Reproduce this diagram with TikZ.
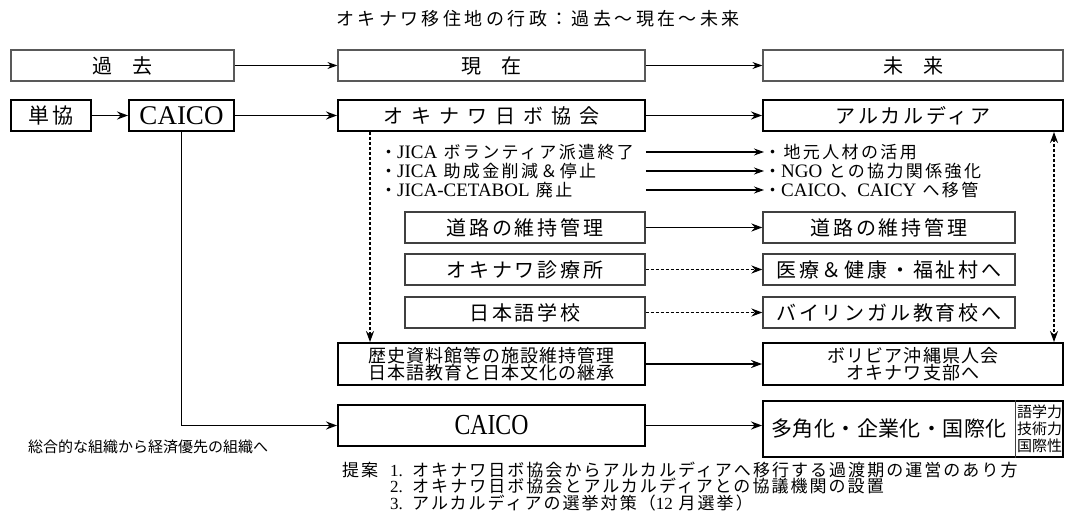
\documentclass[tikz,border=0pt]{standalone}
\usepackage{fontspec}
\setmainfont{Noto Sans CJK JP}
\newfontfamily\lat{Liberation Serif}
\newfontfamily\latn{Liberation Serif}[FakeStretch=0.82]
\newcommand{\lsp}[1]{\addfontfeature{LetterSpace=#1}}
\usetikzlibrary{arrows.meta,calc}
\begin{document}
\begin{tikzpicture}[x=1pt,y=-1pt,
  hdrbox/.style={draw=black!65, line width=1.2pt, inner sep=0pt, minimum height=31pt, font=\fontsize{20}{20}\selectfont},
  mainbox/.style={draw=black, line width=1.9pt, inner sep=0pt},
  subbox/.style={draw=black!75, line width=1.2pt, inner sep=0pt, minimum height=31pt},
  arr/.style={line width=1.7pt, -{Stealth[length=11pt,width=8pt]}},
  thinarr/.style={line width=1.1pt, -{Stealth[length=10pt,width=7pt]}},
  dotarr/.style={line width=1.7pt, dash pattern=on 3pt off 2pt, -{Stealth[length=11pt,width=8pt]}},
  dotdbl/.style={line width=1.7pt, dash pattern=on 3pt off 2pt, {Stealth[length=11pt,width=8pt]}-{Stealth[length=11pt,width=8pt]}},
  bullet/.style={inner sep=0pt, anchor=west, font=\fontsize{17}{17}\selectfont\lsp{14}},
  subtxt/.style={font=\fontsize{20}{20}\selectfont\lsp{14}},
  twoline/.style={align=center, font=\fontsize{18}{15}\selectfont\lsp{6}},
  prop/.style={inner sep=0pt, anchor=base west, font=\fontsize{17}{17}\selectfont\lsp{12}},
]
\useasboundingbox (0,0) rectangle (1065,522);

% title
\node[inner sep=0pt, font=\fontsize{18}{18}\selectfont\lsp{19}] (title) at (538,19) {オキナワ移住地の行政：過去～現在～未来};

% headers
\node[hdrbox, minimum width=223pt] (kako) at (122.5,65.5) {過　去};
\node[hdrbox, minimum width=307pt] (genzai) at (491.5,65.5) {現　在};
\node[hdrbox, minimum width=300pt] (mirai) at (913,65.5) {未　来};
\draw[thinarr] (kako.east) -- (genzai.west);
\draw[thinarr] (genzai.east) -- (mirai.west);

% row 2
\node[mainbox, minimum width=80pt, minimum height=31pt, font=\fontsize{21}{21}\selectfont\lsp{15}] (tankyo) at (51,115.5) {単協};
\node[mainbox, minimum width=105pt, minimum height=31pt, font=\fontsize{27}{27}\lat] (caico) at (181.5,115.5) {CAICO};
\node[mainbox, minimum width=307pt, minimum height=31pt, font=\fontsize{20}{20}\selectfont\lsp{40}] (nibo) at (491.5,115.5) {オキナワ日ボ協会};
\node[mainbox, minimum width=300pt, minimum height=31pt, font=\fontsize{20}{20}\selectfont\lsp{14}] (arcal) at (913,115.5) {アルカルディア};
\draw[arr] (tankyo.east) -- (caico.west);
\draw[arr] (caico.east) -- (nibo.west);
\draw[arr] (nibo.east) -- (arcal.west);

% bullets
\node[bullet] (lb1) at (380,152) {・{\fontsize{19}{19}\lat JICA} ボランティア派遣終了};
\node[bullet] (lb2) at (380,171) {・{\fontsize{19}{19}\lat JICA} 助成金削減＆停止};
\node[bullet] (lb3) at (380,190) {・{\fontsize{19}{19}\lat JICA-CETABOL} 廃止};
\node[bullet] (rb1) at (764,152) {・地元人材の活用};
\node[bullet] (rb2) at (764,171) {・{\fontsize{19}{19}\lat NGO} との協力関係強化};
\node[bullet] (rb3) at (764,190) {・{\fontsize{19}{19}\lat CAICO}、{\fontsize{19}{19}\lat CAICY} へ移管};
\draw[thinarr] (nibo.east |- lb1) -- (rb1.west);
\draw[thinarr] (nibo.east |- lb2) -- (rb2.west);
\draw[thinarr] (nibo.east |- lb3) -- (rb3.west);

% inner boxes
\node[subbox, minimum width=240pt, subtxt] (road1) at (525,227.5) {道路の維持管理};
\node[subbox, minimum width=240pt, subtxt] (clinic) at (525,269.5) {オキナワ診療所};
\node[subbox, minimum width=240pt, subtxt] (school) at (525,312.5) {日本語学校};
\node[subbox, minimum width=252pt, subtxt] (road2) at (889,227.5) {道路の維持管理};
\node[subbox, minimum width=252pt, subtxt] (medic) at (889,269.5) {医療＆健康・福祉村へ};
\node[subbox, minimum width=252pt, subtxt] (bilin) at (889,312.5) {バイリンガル教育校へ};
\draw[arr] (road1.east) -- (road2.west);
\draw[dotarr] (clinic.east) -- (medic.west);
\draw[dotarr] (school.east) -- (bilin.west);

% history / bolivia
\node[mainbox, minimum width=307pt, minimum height=42pt, twoline] (hist) at (491.5,364) {歴史資料館等の施設維持管理\\日本語教育と日本文化の継承};
\node[mainbox, minimum width=300pt, minimum height=42pt, twoline] (bol) at (913,364) {ボリビア沖縄県人会\\オキナワ支部へ};
\draw[arr] (hist.east) -- (bol.west);

% dotted links
\coordinate (dx) at (370,0);
\coordinate (rx) at (1054,0);
\draw[dotarr] (nibo.south -| dx) -- (hist.north -| dx);
\draw[dotdbl] (arcal.south -| rx) -- (bol.north -| rx);

% bottom row
\node[mainbox, minimum width=307pt, minimum height=41pt, font=\fontsize{29}{29}\latn] (caico2) at (491.5,425.5) {CAICO};
\node[mainbox, minimum width=300pt, minimum height=56pt] (tak) at (913,429) {};
\coordinate (divx) at (1015,0);
\draw[line width=1pt, black!75] (tak.north -| divx) -- (tak.south -| divx);
\node[inner sep=0pt, font=\fontsize{21}{21}\selectfont\lsp{2}] (takt) at (889,429) {多角化・企業化・国際化};
\node[inner sep=0pt, align=left, font=\fontsize{15}{17}\selectfont] (skills) at (1039.5,429) {語学力\\技術力\\国際性};
\draw[arr] (caico.south) |- (caico2.west);
\draw[arr] (caico2.east) -- (caico2.east -| tak.west);

\node[inner sep=0pt, anchor=west, font=\fontsize{15}{16}\selectfont] (sogo) at (28,447) {総合的な組織から経済優先の組織へ};

% proposals
\node[prop] (p0) at (342,476) {提案};
\node[prop] (n1) at (390,476) {\lat 1.};
\node[prop] (p1) at (412,476) {オキナワ日ボ協会からアルカルディアへ移行する過渡期の運営のあり方};
\node[prop] (n2) at (390,492.5) {\lat 2.};
\node[prop] (p2) at (412,492.5) {オキナワ日ボ協会とアルカルディアとの協議機関の設置};
\node[prop] (n3) at (390,509) {\lat 3.};
\node[prop] (p3) at (412,509) {アルカルディアの選挙対策（{\lat 12} 月選挙）};
\end{tikzpicture}
\end{document}
